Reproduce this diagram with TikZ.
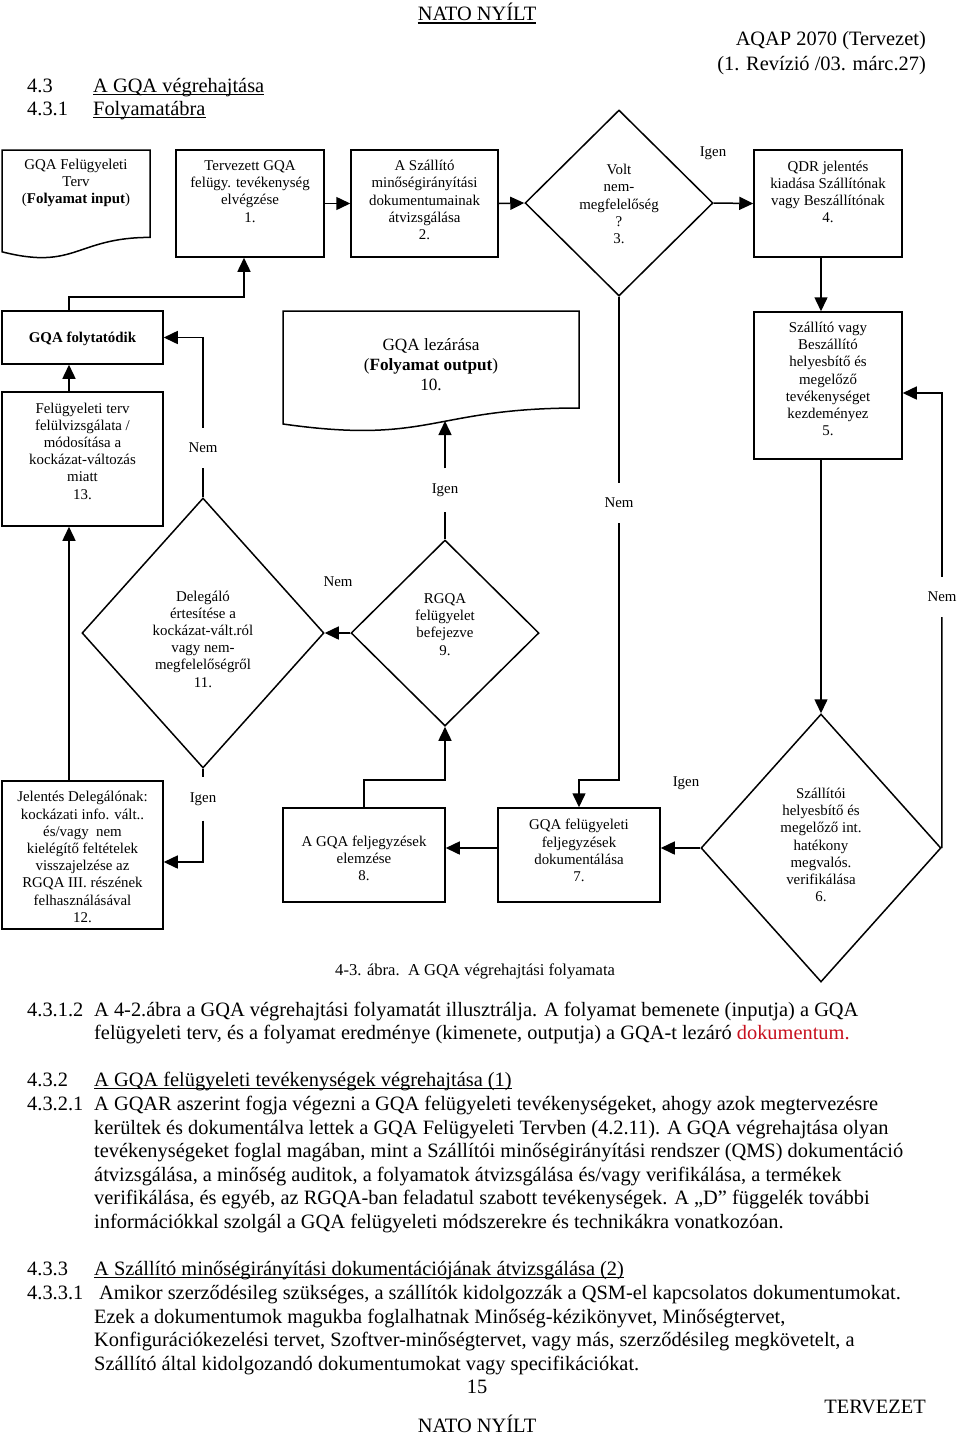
\documentclass[tikz,border=0pt]{standalone}
\usepackage{fontspec}
\setmainfont{Liberation Serif}
\usetikzlibrary{shapes.geometric,arrows.meta}
\definecolor{docred}{RGB}{200,16,30}
\newcommand\myDiagFont{\fontsize{14.9}{17.2}\selectfont}
\newcommand\myDocFont{\fontsize{17.2}{20}\selectfont}
\newcommand\myBodyFont{\fontsize{20.4}{23.5}\selectfont}
\newcommand\myCapFont{\fontsize{16.6}{19}\selectfont}
\begin{document}
\begin{tikzpicture}[x=1pt,y=-1pt,
  shp/.style={draw, line width=1.5pt, inner sep=0pt},
  boxs/.style={shp, rectangle},
  dia/.style={shp, diamond},
  ghost/.style={rectangle, inner sep=0pt},
  txt/.style={align=center, inner sep=0pt, font=\myDiagFont},
  lbl/.style={inner xsep=3pt, inner ysep=15pt, font=\myDiagFont},
  lblf/.style={inner sep=0pt, font=\myDiagFont},
  ln/.style={line width=1.5pt},
  arr/.style={line width=1.5pt, -{Triangle[length=14pt,width=13pt]}},
  body/.style={anchor=base west, inner sep=0pt, font=\myBodyFont},
  ul/.style={line width=1.2pt}
]
\useasboundingbox[fill=white] (0,0) rectangle (960,1436);

% ---------- header ----------
\node[body, anchor=base] (nato1) at (477,20) {NATO NYÍLT};
\draw[ul] ([yshift=-3pt]nato1.base west) -- ([yshift=-3pt]nato1.base east);
\node[body, anchor=base east] (aq1) at (926,45) {AQAP 2070 (Tervezet)};
\node[body, anchor=base east] (aq2) at (926,70) {(1. Revízió /03. márc.27)};
\node[body] (s43) at (27,92) {4.3};
\node[body] (s43t) at (93,92) {A GQA végrehajtása};
\draw[ul] ([yshift=-2.5pt]s43t.base west) -- ([yshift=-2.5pt]s43t.base east);
\node[body] (s431) at (27,115) {4.3.1};
\node[body] (s431t) at (93,115) {Folyamatábra};
\draw[ul] ([yshift=-2.5pt]s431t.base west) -- ([yshift=-2.5pt]s431t.base east);

% ---------- shapes ----------
% document 0
\node[ghost, minimum width=148pt, minimum height=109pt] (doc0) at (76,204.5) {};
\draw[ln] (2,150) -- (150,150) -- (150,237.4) .. controls (76,237.4) and (76,270.7) .. (2,251.8) -- cycle;
\node[txt] (t0) at (76,183) {GQA Felügyeleti\\Terv\\(\textbf{Folyamat input})};

\node[boxs, minimum width=148pt, minimum height=107pt] (b1) at (250,203.5) {};
\node[txt] (t1) at (250,191.5) {Tervezett GQA\\felügy. tevékenység\\elvégzése\\1.};

\node[boxs, minimum width=147pt, minimum height=107pt] (b2) at (424.5,203.5) {};
\node[txt] (t2) at (424.5,200) {A Szállító\\minőségirányítási\\dokumentumainak\\átvizsgálása\\2.};

\node[dia, minimum width=188pt, minimum height=186pt] (d3) at (619,203) {};
\node[txt] (t3) at (619,204) {Volt\\nem-\\megfelelőség\\?\\3.};

\node[boxs, minimum width=148pt, minimum height=107pt] (b4) at (828,203.5) {};
\node[txt] (t4) at (828,192) {QDR jelentés\\kiadása Szállítónak\\vagy Beszállítónak\\4.};

\node[boxs, minimum width=161pt, minimum height=53pt] (b14) at (82.5,337.5) {};
\node[txt] (t14) at (82.5,339) {\textbf{GQA folytatódik}};

\node[boxs, minimum width=161pt, minimum height=134pt] (b13) at (82.5,459) {};
\node[txt] (t13) at (82.5,451) {Felügyeleti terv\\felülvizsgálata /\\módosítása a\\kockázat-változás\\miatt\\13.};

% document 10
\node[ghost, minimum width=296pt, minimum height=121pt] (doc10) at (431,371.5) {};
\draw[ln] (283,311) -- (579,311) -- (579,408) .. controls (431,408) and (431,445) .. (283,424) -- cycle;
\node[txt, font=\myDocFont] (t10) at (431,365) {GQA lezárása\\(\textbf{Folyamat output})\\10.};

\node[boxs, minimum width=148pt, minimum height=147pt] (b5) at (828,385.5) {};
\node[txt] (t5) at (828,379) {Szállító vagy\\Beszállító\\helyesbítő és\\megelőző\\tevékenységet\\kezdeményez\\5.};

\node[dia, minimum width=242pt, minimum height=270pt] (d11) at (203,633) {};
\node[txt] (t11) at (203,639) {Delegáló\\értesítése a\\kockázat-vált.ról\\vagy nem-\\megfelelőségről\\11.};

\node[dia, minimum width=188pt, minimum height=186pt] (d9) at (445,633) {};
\node[txt] (t9) at (445,624.5) {RGQA\\felügyelet\\befejezve\\9.};

\node[boxs, minimum width=161pt, minimum height=148pt] (b12) at (82.5,855) {};
\node[txt] (t12) at (82.5,857) {Jelentés Delegálónak:\\kockázati info. vált..\\és/vagy~~nem\\kielégítő feltételek\\visszajelzése az\\RGQA III. részének\\felhasználásával\\12.};

\node[boxs, minimum width=162pt, minimum height=94pt] (b8) at (364,855) {};
\node[txt] (t8) at (364,858.5) {A GQA feljegyzések\\elemzése\\8.};

\node[boxs, minimum width=162pt, minimum height=94pt] (b7) at (579,855) {};
\node[txt] (t7) at (579,850.5) {GQA felügyeleti\\feljegyzések\\dokumentálása\\7.};

\node[dia, minimum width=240pt, minimum height=268pt] (d6) at (821,848) {};
\node[txt] (t6) at (821,845) {Szállítói\\helyesbítő és\\megelőző int.\\hatékony\\megvalós.\\verifikálása\\6.};

% ---------- labels ----------
\node[lblf] (igen3) at (713,153) {Igen};
\node[lblf] (nem9) at (338,582) {Nem};
\node[lblf] (igen6) at (686,783) {Igen};
\node[lbl] (nem11) at (203,448) {Nem};
\node[lbl] (igen9) at (445,490) {Igen};
\node[lbl] (nem3) at (619,503) {Nem};
\node[lbl] (nem6) at (942,597) {Nem};
\node[lbl] (igen11) at (203,799) {Igen};

% ---------- bend coordinates ----------
\coordinate (k14) at (69,297);
\coordinate (k1) at (244,297);
\coordinate (k6) at (942,393);
\coordinate (k7) at (619,780);
\coordinate (k8) at (445,780);
\coordinate (k10) at (445,421);
\coordinate (k12) at (203,862);

% ---------- connectors ----------
\draw[arr] (b1.east) -- (b2.west);
\draw[arr] (b2.east) -- (d3.west);
\draw[arr] (d3.east) -- (b4.west);
\draw[arr] (b4.south -| d6.north) -- (b5.north -| d6.north);
\draw[arr] (b5.south -| d6.north) -- (d6.north);
\draw[ln] (d6.east) -- (nem6);
\draw[arr] (nem6) -- (k6) -- (k6 -| b5.east);
\draw[arr] (d6.west) -- (d6.west -| b7.east);
\draw[arr] (d6.west -| b7.west) -- (d6.west -| b8.east);
\draw[arr] (b8.north) |- (k8) -- (d9.south);
\draw[ln] (d9.north) -- (igen9);
\draw[arr] (igen9) -- (k10);
\draw[arr] (d9.west) -- (d11.east);
\draw[ln] (d11.north) -- (nem11);
\draw[arr] (nem11) |- (b14.east);
\draw[ln] (d11.south) -- (igen11);
\draw[arr] (igen11) -- (k12) -- (k12 -| b12.east);
\draw[arr] (b12.north -| k14) -- (b13.south -| k14);
\draw[arr] (b13.north -| k14) -- (b14.south -| k14);
\draw[arr] (b14.north -| k14) -- (k14) -- (k1) -- (k1 |- b1.south);
\draw[ln] (d3.south) -- (nem3);
\draw[arr] (nem3) -- (k7) -| (b7.north);

% ---------- caption ----------
\node[anchor=base west, inner sep=0pt, font=\myCapFont] (cap) at (335,975) {4-3. ábra.~~A GQA végrehajtási folyamata};

% ---------- body text ----------
\node[body] (n1) at (27,1016) {4.3.1.2};
\node[body] (l1) at (94,1016) {A 4-2.ábra a GQA végrehajtási folyamatát illusztrálja. A folyamat bemenete (inputja) a GQA};
\node[body] (l2) at (94,1039) {felügyeleti terv, és a folyamat eredménye (kimenete, outputja) a GQA-t lezáró \textcolor{docred}{dokumentum.}};
\node[body] (n2) at (27,1086) {4.3.2};
\node[body] (l3) at (94,1086) {A GQA felügyeleti tevékenységek végrehajtása (1)};
\draw[ul] ([yshift=-2.5pt]l3.base west) -- ([yshift=-2.5pt]l3.base east);
\node[body] (n3) at (27,1110) {4.3.2.1};
\node[body] (l4) at (94,1110) {A GQAR aszerint fogja végezni a GQA felügyeleti tevékenységeket, ahogy azok megtervezésre};
\node[body] (l5) at (94,1134) {kerültek és dokumentálva lettek a GQA Felügyeleti Tervben (4.2.11). A GQA végrehajtása olyan};
\node[body] (l6) at (94,1157) {tevékenységeket foglal magában, mint a Szállítói minőségirányítási rendszer (QMS) dokumentáció};
\node[body] (l7) at (94,1181) {átvizsgálása, a minőség auditok, a folyamatok átvizsgálása és/vagy verifikálása, a termékek};
\node[body] (l8) at (94,1204) {verifikálása, és egyéb, az RGQA-ban feladatul szabott tevékenységek. A „D” függelék további};
\node[body] (l9) at (94,1228) {információkkal szolgál a GQA felügyeleti módszerekre és technikákra vonatkozóan.};
\node[body] (n4) at (27,1275) {4.3.3};
\node[body] (l10) at (94,1275) {A Szállító minőségirányítási dokumentációjának átvizsgálása (2)};
\draw[ul] ([yshift=-2.5pt]l10.base west) -- ([yshift=-2.5pt]l10.base east);
\node[body] (n5) at (27,1299) {4.3.3.1};
\node[body] (l11) at (99,1299) {Amikor szerződésileg szükséges, a szállítók kidolgozzák a QSM-el kapcsolatos dokumentumokat.};
\node[body] (l12) at (94,1323) {Ezek a dokumentumok magukba foglalhatnak Minőség-kézikönyvet, Minőségtervet,};
\node[body] (l13) at (94,1346) {Konfigurációkezelési tervet, Szoftver-minőségtervet, vagy más, szerződésileg megkövetelt, a};
\node[body] (l14) at (94,1370) {Szállító által kidolgozandó dokumentumokat vagy specifikációkat.};
\node[body, anchor=base] (pg) at (477,1393) {15};
\node[body, anchor=base east] (terv) at (926,1413) {TERVEZET};
\node[body, anchor=base] (nato2) at (477,1432) {NATO NYÍLT};
\end{tikzpicture}
\end{document}
